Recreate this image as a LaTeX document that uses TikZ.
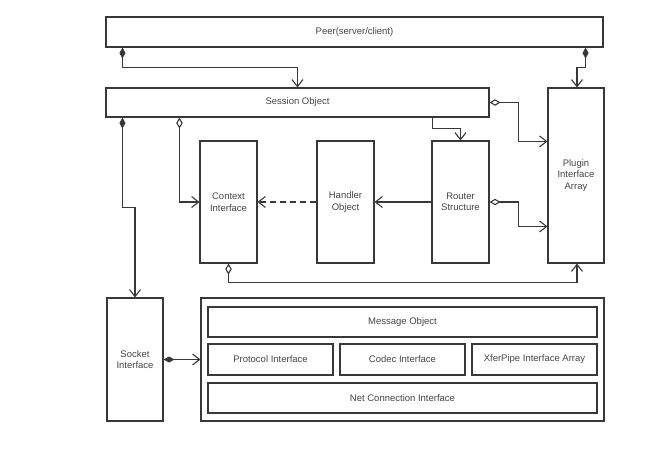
\documentclass[tikz,border=0pt]{standalone}
\usepackage{fontspec}
\setmainfont{Liberation Sans}
\usetikzlibrary{arrows.meta}
\definecolor{ln}{HTML}{383838}
\definecolor{tx}{HTML}{444444}
\tikzset{
  box/.style={draw=ln, line width=1.1pt, inner sep=0pt, align=center, text=tx, font=\fontsize{9.5}{11.5}\selectfont},
  conn/.style={draw=ln, line width=1.1pt, -{Straight Barb[length=7pt,width=11pt,line width=1.1pt]}},
  fdia/.style={conn, {Diamond[length=11pt,width=6pt]}-{Straight Barb[length=7pt,width=11pt,line width=1.1pt]}},
  odia/.style={conn, {Diamond[open,length=11pt,width=6.5pt,fill=white]}-{Straight Barb[length=7pt,width=11pt,line width=1.1pt]}},
}
\begin{document}
\begin{tikzpicture}[x=1pt,y=-1pt]
\useasboundingbox (0,0) rectangle (666,452);
\node[box, minimum width=497pt, minimum height=30pt] (peer) at (354.5,32) {Peer(server/client)};
\node[box, minimum width=383pt, minimum height=29pt] (session) at (297.5,102.5) {Session Object};
\node[box, minimum width=56pt, minimum height=175pt] (plugin) at (576,175.5) {Plugin\\Interface\\Array};
\node[box, minimum width=57pt, minimum height=122pt] (context) at (228.5,202) {Context\\Interface};
\node[box, minimum width=57pt, minimum height=122pt] (handler) at (345.5,202) {Handler\\Object};
\node[box, minimum width=57pt, minimum height=122pt] (router) at (460.5,202) {Router\\Structure};
\node[box, minimum width=56pt, minimum height=123pt] (socket) at (135,359.5) {Socket\\Interface};
\node[box, minimum width=403pt, minimum height=123pt] (outer) at (402.5,359.5) {};
\node[box, minimum width=389pt, minimum height=30pt] (message) at (402.5,322) {Message Object};
\node[box, minimum width=125pt, minimum height=31pt] (protocol) at (270.5,359.5) {Protocol Interface};
\node[box, minimum width=125pt, minimum height=31pt] (codec) at (402.5,359.5) {Codec Interface};
\node[box, minimum width=125pt, minimum height=31pt] (xfer) at (534.5,359.5) {XferPipe Interface Array};
\node[box, minimum width=389pt, minimum height=30pt] (net) at (402.5,398) {Net Connection Interface};

\draw[fdia] ([xshift=17pt]peer.south west) -- ++(0,20) -| ([xshift=192pt]session.north west);
\draw[fdia] ([xshift=-18pt]peer.south east) -- ++(0,20) -| ([xshift=1pt]plugin.north);
\draw[conn] ([xshift=-57pt]session.south east) -- ++(0,11) -| (router.north);
\draw[odia] (session.east) -- ++(29,0) |- ([yshift=-54pt]plugin.north west);
\draw[fdia] ([xshift=17pt]session.south west) -- ++(0,90) -| (socket.north);
\draw[odia] ([xshift=74pt]session.south west) |- (context.west);
\draw[conn, dash pattern=on 6pt off 4pt] (handler.west) -- (context.east);
\draw[conn] (router.west) -- (handler.east);
\draw[odia] (router.east) -- ++(29,0) |- ([yshift=-139pt]plugin.north west);
\draw[odia] (context.south) -- ++(0,19) -| ([xshift=1pt]plugin.south);
\draw[fdia] (socket.east) -- (outer.west);
\end{tikzpicture}
\end{document}
